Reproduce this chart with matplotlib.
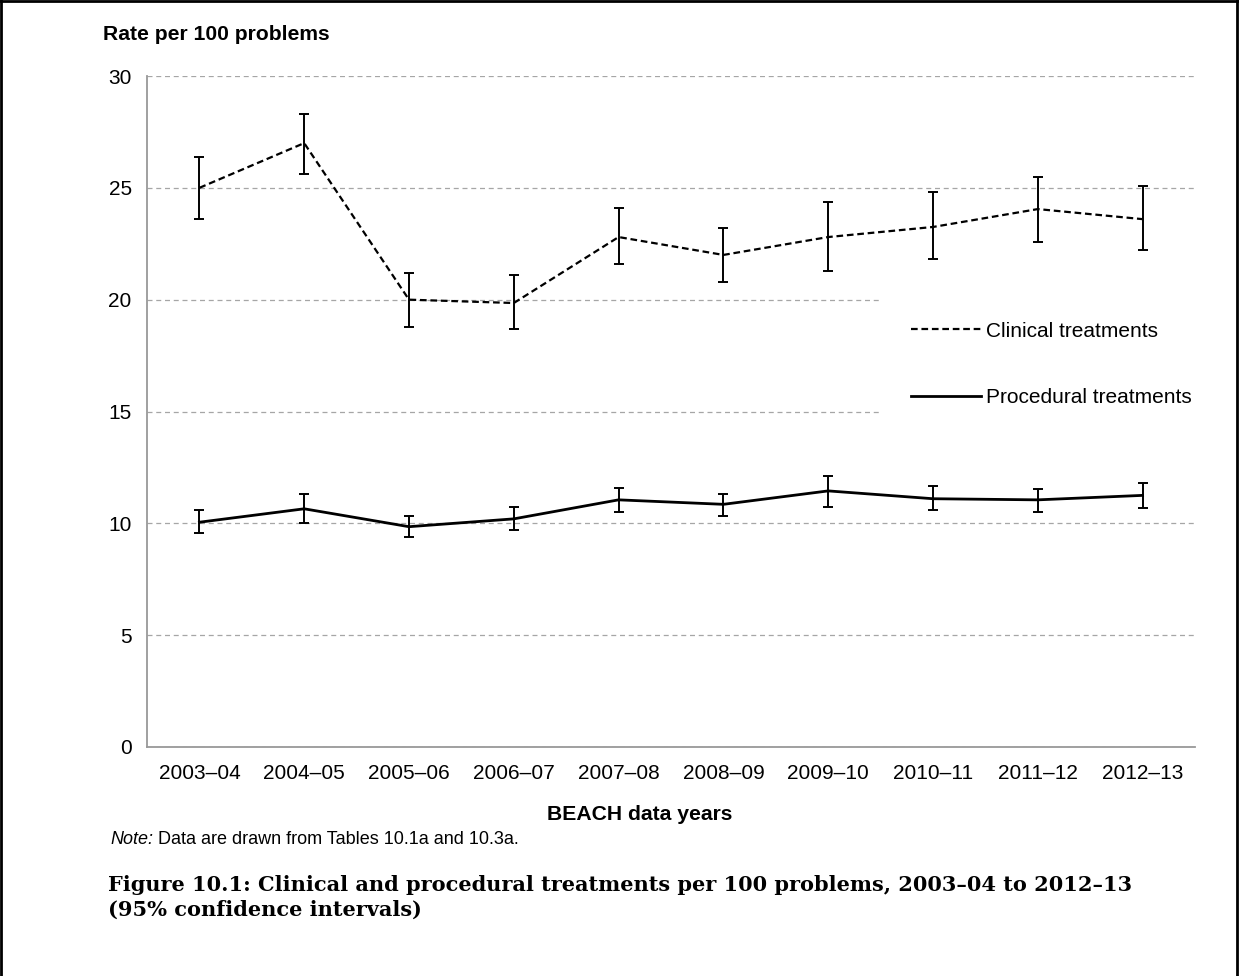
import matplotlib
matplotlib.use("Agg")
import matplotlib.pyplot as plt
from matplotlib.lines import Line2D

plt.rcParams['font.family'] = ['Liberation Sans', 'DejaVu Sans']

years = ["2003–04", "2004–05", "2005–06", "2006–07", "2007–08",
         "2008–09", "2009–10", "2010–11", "2011–12", "2012–13"]
clinical = [25.0, 27.0, 20.0, 19.85, 22.8, 22.0, 22.8, 23.25, 24.05, 23.6]
clinical_lo = [23.6, 25.6, 18.8, 18.7, 21.6, 20.8, 21.3, 21.8, 22.6, 22.2]
clinical_hi = [26.4, 28.3, 21.2, 21.1, 24.1, 23.2, 24.35, 24.8, 25.5, 25.1]
procedural = [10.05, 10.65, 9.85, 10.2, 11.05, 10.85, 11.45, 11.1, 11.05, 11.25]
procedural_lo = [9.55, 10.0, 9.4, 9.7, 10.5, 10.35, 10.75, 10.6, 10.5, 10.7]
procedural_hi = [10.6, 11.3, 10.35, 10.75, 11.6, 11.3, 12.1, 11.65, 11.55, 11.8]
yticks = [0, 5, 10, 15, 20, 25, 30]

W, H = 1239, 976
fig = plt.figure(figsize=(W / 100, H / 100), dpi=100)
ax = fig.add_axes([147 / W, 1 - 747 / H, (1195 - 147) / W, (747 - 76) / H])

x = list(range(len(years)))
c_err = [[c - l for c, l in zip(clinical, clinical_lo)],
         [h - c for c, h in zip(clinical, clinical_hi)]]
p_err = [[c - l for c, l in zip(procedural, procedural_lo)],
         [h - c for c, h in zip(procedural, procedural_hi)]]

dash = (0, (3.0, 1.7))
ax.errorbar(x, clinical, yerr=c_err, color='black', lw=1.6,
            linestyle=dash, ecolor='black', elinewidth=1.4,
            capsize=3.8, capthick=1.4, zorder=3)
ax.errorbar(x, procedural, yerr=p_err, color='black', lw=2.0,
            linestyle='-', ecolor='black', elinewidth=1.4,
            capsize=3.8, capthick=1.4, zorder=3)

ax.set_xlim(-0.5, len(years) - 0.5)
ax.set_ylim(0, 30)
ax.set_yticks(yticks)
ax.set_xticks(x)
ax.set_xticklabels(years)
ax.tick_params(axis='both', length=0, labelsize=15, colors='black')
ax.tick_params(axis='y', pad=11)
ax.tick_params(axis='x', pad=12)

ax.set_axisbelow(True)
ax.yaxis.grid(True, color='#A6A6A6', linestyle=(0, (4, 3)), lw=0.9)
for sp in ['top', 'right']:
    ax.spines[sp].set_visible(False)
for sp in ['left', 'bottom']:
    ax.spines[sp].set_color('#999999')
    ax.spines[sp].set_linewidth(1.3)

handles = [Line2D([], [], color='black', lw=1.6, linestyle=dash),
           Line2D([], [], color='black', lw=2.0)]
leg = ax.legend(handles, ['Clinical treatments', 'Procedural treatments'],
                loc='center left', bbox_to_anchor=(0.6994, 0.570),
                frameon=True, fancybox=False, facecolor='white',
                edgecolor='none', framealpha=1, fontsize=15,
                handlelength=3.35, handletextpad=0.25, labelspacing=2.3,
                borderpad=1.5, borderaxespad=0)
leg.set_zorder(5)

fig.text(103 / W, 1 - 35 / H, 'Rate per 100 problems', fontsize=15.2,
         fontweight='bold', ha='left', va='center')
fig.text(640 / W, 1 - 814 / H, 'BEACH data years', fontsize=15.2,
         fontweight='bold', ha='center', va='center')

t_note = fig.text(110 / W, 1 - 840 / H, 'Note:', fontsize=13,
                  style='italic', ha='left', va='center')
ax.annotate(' Data are drawn from Tables 10.1a and 10.3a.', xy=(1, 0.5),
            xycoords=t_note, ha='left', va='center', fontsize=13,
            annotation_clip=False)

fig.text(108 / W, 1 - 897 / H,
         'Figure 10.1: Clinical and procedural treatments per 100 problems, 2003–04 to 2012–13\n(95% confidence intervals)',
         fontsize=15, fontweight='bold', family=['DejaVu Serif'],
         ha='left', va='center', linespacing=1.3)

# outer frame (left, top, right)
bw = 2.0
fig.add_artist(Line2D([1 / W, 1 / W], [0, 1], transform=fig.transFigure,
                      color='black', lw=bw))
fig.add_artist(Line2D([0, 1], [1 - 1 / H, 1 - 1 / H], transform=fig.transFigure,
                      color='black', lw=bw))
fig.add_artist(Line2D([1 - 2 / W, 1 - 2 / W], [0, 1], transform=fig.transFigure,
                      color='black', lw=bw))

fig.savefig('out.png', dpi=100, facecolor='white')
